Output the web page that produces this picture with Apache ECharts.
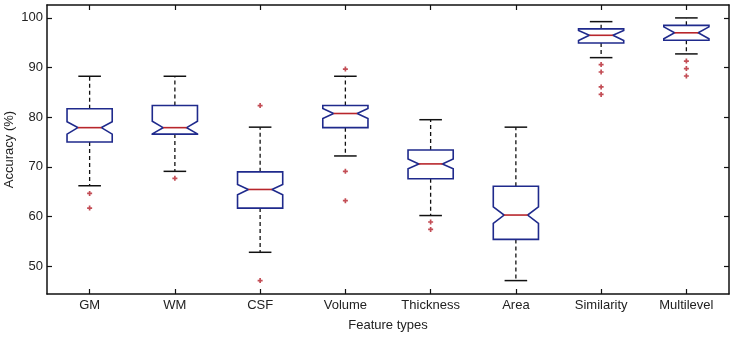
<!DOCTYPE html>
<html>
<head>
<meta charset="utf-8">
<script src="https://cdn.jsdelivr.net/npm/echarts@6/dist/echarts.min.js"></script>
<style>
	html, body { margin: 0; padding: 0; background: #fff; }
	#chart { width: 737px; height: 340px; }
</style>
</head>
<body>
<div id="chart"></div>
<script>
var categories = ["GM", "WM", "CSF", "Volume", "Thickness", "Area", "Similarity", "Multilevel"];
// box statistics
var whiskerHigh = [88.25, 88.25, 78.0, 88.25, 79.5, 78.0, 99.25, 100.0];
var q3 = [81.7, 82.35, 69.0, 82.35, 73.4, 66.1, 97.8, 98.5];
var notchHigh = [79.1, 79.2, 66.45, 81.75, 71.6, 61.95, 97.45, 98.2];
var median = [77.9, 77.9, 65.45, 80.75, 70.6, 60.3, 96.5, 97.0];
var notchLow = [76.6, 76.65, 64.4, 79.75, 69.6, 58.6, 95.45, 95.8];
var q1 = [75.0, 76.6, 61.7, 77.9, 67.6, 55.4, 94.95, 95.5];
var whiskerLow = [66.2, 69.1, 52.8, 72.2, 60.2, 47.1, 92.0, 92.75];
var outliers = [
	[64.65, 61.7],
	[67.7],
	[82.35, 47.1],
	[89.7, 69.1, 63.2],
	[58.9, 57.4],
	[],
	[90.6, 89.1, 86.1, 84.6],
	[91.3, 89.8, 88.3]
];
var yTicks = [50, 60, 70, 80, 90, 100];

var boxColor = "#1f2a8c";
var medColor = "#b8262c";
var font = "Liberation Sans";

var boxData = categories.map(function (c, i) {
	return [i, whiskerLow[i], q1[i], notchLow[i], median[i], notchHigh[i], q3[i], whiskerHigh[i]];
});
var outlierData = [];
outliers.forEach(function (list, i) {
	list.forEach(function (v) {
		outlierData.push([i, v]);
	});
});

// notched box like matlab boxplot
function renderBox(params, api) {
	var i = api.value(0);
	var band = api.size([1, 0])[0];
	var half = band * 0.265;
	var ind = half * 0.48;
	var capHalf = half * 0.5;
	var x = api.coord([i, api.value(4)])[0];
	var yy = [1, 2, 3, 4, 5, 6, 7].map(function (k) {
		return api.coord([i, api.value(k)])[1];
	});
	var lo = yy[0], b1 = yy[1], nl = yy[2], md = yy[3], nh = yy[4], b3 = yy[5], hi = yy[6];
	var xl = x - half, xr = x + half;
	var dash = { stroke: "#111", lineWidth: 1.3, lineDash: [4, 3] };
	var solid = { stroke: "#111", lineWidth: 1.5 };
	return {
		type: "group",
		children: [
			{ type: "line", shape: { x1: x, y1: b3, x2: x, y2: hi }, style: dash },
			{ type: "line", shape: { x1: x, y1: b1, x2: x, y2: lo }, style: dash },
			{ type: "line", shape: { x1: x - capHalf, y1: hi, x2: x + capHalf, y2: hi }, style: solid },
			{ type: "line", shape: { x1: x - capHalf, y1: lo, x2: x + capHalf, y2: lo }, style: solid },
			{
				type: "polygon",
				shape: {
					points: [
						[xl, b3], [xr, b3], [xr, nh], [xr - ind, md], [xr, nl], [xr, b1],
						[xl, b1], [xl, nl], [xl + ind, md], [xl, nh]
					]
				},
				style: { fill: "#fff", stroke: boxColor, lineWidth: 1.6 }
			},
			{ type: "line", shape: { x1: xl + ind, y1: md, x2: xr - ind, y2: md }, style: { stroke: medColor, lineWidth: 1.6 } }
		]
	};
}

var myChart = echarts.init(document.getElementById("chart"), null, { renderer: "canvas" });
var axisLine = { show: true, onZero: false, lineStyle: { color: "#111", width: 1.5 } };
var tick = { show: true, inside: true, length: 5, lineStyle: { color: "#111", width: 1.2 } };

var option = {
	animation: false,
	backgroundColor: "#fff",
	grid: { left: 47, right: 8, top: 5, bottom: 46, outerBoundsMode: "none" },
	xAxis: [
		{
			type: "category",
			data: categories,
			position: "bottom",
			axisLine: axisLine,
			axisTick: Object.assign({ alignWithLabel: true }, tick),
			axisLabel: { color: "#222", fontSize: 13, fontFamily: font, margin: 5 },
			name: "Feature types",
			nameLocation: "middle",
			nameGap: 25,
			nameMoveOverlap: false,
			nameTextStyle: { color: "#222", fontSize: 13, fontFamily: font },
			splitLine: { show: false }
		},
		{
			type: "category",
			data: categories,
			position: "top",
			axisLine: axisLine,
			axisTick: Object.assign({ alignWithLabel: true }, tick),
			axisLabel: { show: false },
			splitLine: { show: false }
		}
	],
	yAxis: [
		{
			type: "value",
			min: 44.4,
			max: 102.6,
			position: "left",
			axisLine: axisLine,
			axisTick: Object.assign({ customValues: yTicks }, tick),
			axisLabel: { customValues: yTicks, color: "#222", fontSize: 13, fontFamily: font, margin: 4 },
			name: "Accuracy (%)",
			nameLocation: "middle",
			nameGap: 31,
			nameMoveOverlap: false,
			nameTextStyle: { color: "#222", fontSize: 13, fontFamily: font },
			splitLine: { show: false }
		},
		{
			type: "value",
			min: 44.4,
			max: 102.6,
			position: "right",
			axisLine: axisLine,
			axisTick: Object.assign({ customValues: yTicks }, tick),
			axisLabel: { show: false },
			splitLine: { show: false }
		}
	],
	series: [
		{
			type: "custom",
			renderItem: renderBox,
			data: boxData,
			encode: { x: 0, y: [1, 2, 3, 4, 5, 6, 7] },
			z: 2
		},
		{
			type: "scatter",
			data: outlierData,
			symbol: "path://M2,0H4V2H6V4H4V6H2V4H0V2H2Z",
			symbolSize: 5,
			itemStyle: { color: "#b4202a" },
			z: 3
		}
	]
};
myChart.setOption(option);
window.addEventListener("resize", myChart.resize);
</script>
</body>
</html>
